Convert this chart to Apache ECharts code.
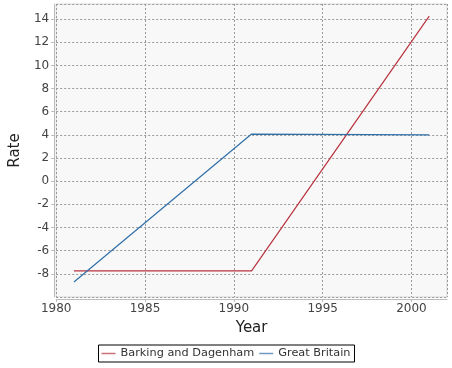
<!DOCTYPE html>
<html><head><meta charset="utf-8">
<script src="https://cdn.jsdelivr.net/npm/echarts@6/dist/echarts.min.js"></script>
<style>html,body{margin:0;padding:0;background:#fff}#c{width:452px;height:368px}</style>
</head><body><div id="c"></div>
<script>
const years = [1981, 1991, 2001];
const barkingDagenham = [-7.75, -7.75, 14.25];
const greatBritain = [-8.7, 4.07, 4.0];
const seriesNames = ['Barking and Dagenham', 'Great Britain'];
const xAxisTitle = 'Year';
const yAxisTitle = 'Rate';

const font = 'DejaVu Sans';
const chart = echarts.init(document.getElementById('c'), null, {renderer: 'canvas'});
const pair = (xs, ys) => xs.map((x, i) => [x, ys[i]]);
chart.setOption({
  animation: false,
  backgroundColor: '#fff',
  textStyle: {fontFamily: font},
  grid: {left: 52, right: 5, top: 4, bottom: 71, show: true, backgroundColor: '#f8f8f8', borderColor: '#d8d8d8', borderWidth: 1},
  legend: {
    bottom: 6, left: 'center',
    data: seriesNames,
    backgroundColor: '#fff', borderColor: '#000', borderWidth: 1,
    padding: [3, 4, 3, 3], itemGap: 5,
    icon: 'rect', itemWidth: 14, itemHeight: 1.5,
    textStyle: {fontFamily: font, fontSize: 11.3, color: '#333'},
    itemStyle: {opacity: 0.7}
  },
  xAxis: {
    type: 'value', min: 1980, max: 2002, interval: 5, offset: 2,
    name: xAxisTitle, nameLocation: 'middle', nameGap: 22,
    nameTextStyle: {fontFamily: font, fontSize: 15, color: '#222'},
    axisLine: {show: true, onZero: false, lineStyle: {color: '#bbb'}},
    axisTick: {show: true, length: 3, lineStyle: {color: '#bbb'}},
    axisLabel: {showMaxLabel: false, margin: 4, fontSize: 12, color: '#444', fontFamily: font,
      formatter: v => String(v)},
    splitLine: {show: true, lineStyle: {color: '#999', type: [2, 2], width: 1}}
  },
  yAxis: {
    type: 'value', min: -10, max: 15.3, interval: 2, offset: 2,
    name: yAxisTitle, nameLocation: 'middle', nameGap: 29, nameRotate: 90,
    nameTextStyle: {fontFamily: font, fontSize: 15, color: '#222'},
    axisLine: {show: true, onZero: false, lineStyle: {color: '#bbb'}},
    axisTick: {show: true, length: 3, lineStyle: {color: '#bbb'}},
    axisLabel: {showMinLabel: false, showMaxLabel: false, margin: 5, fontSize: 12, color: '#444', fontFamily: font},
    splitLine: {show: true, lineStyle: {color: '#999', type: [2, 2], width: 1}}
  },
  series: [
    {name: seriesNames[0], type: 'line', data: pair(years, barkingDagenham), showSymbol: false, symbol: 'none',
     lineStyle: {color: '#b8333e', width: 1.2}, itemStyle: {color: '#b8333e'}},
    {name: seriesNames[1], type: 'line', data: pair(years, greatBritain), showSymbol: false, symbol: 'none',
     lineStyle: {color: '#2f70a8', width: 1.2}, itemStyle: {color: '#2f70a8'}}
  ]
});
</script></body></html>
